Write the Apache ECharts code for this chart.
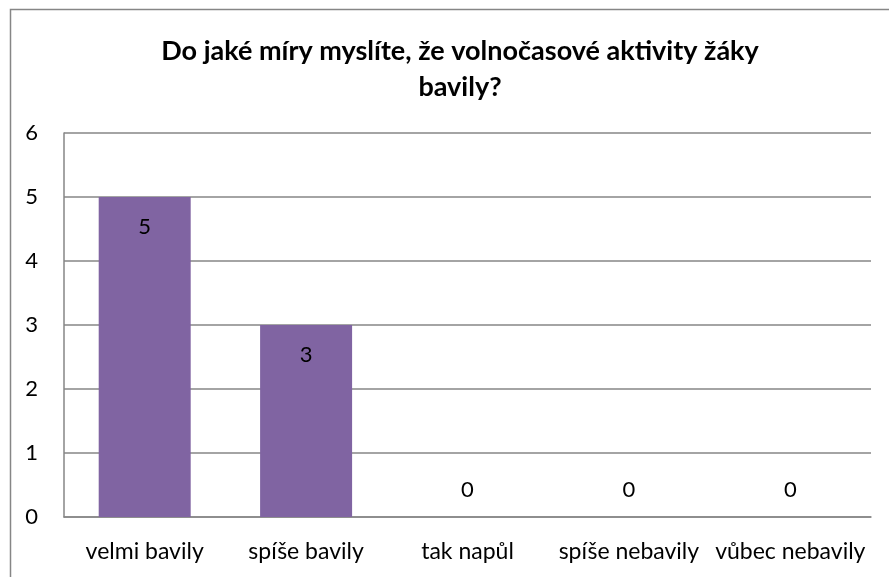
<!DOCTYPE html>
<html><head><meta charset="utf-8">
<script src="https://cdn.jsdelivr.net/npm/echarts@6/dist/echarts.min.js"></script>
<style>html,body{margin:0;padding:0;background:#fff}#c{width:889px;height:577px}</style>
</head><body><div id="c"></div>
<script>
const categories = ['velmi bavily', 'spíše bavily', 'tak napůl', 'spíše nebavily', 'vůbec nebavily'];
const values = [5, 3, 0, 0, 0];
const yTicks = [0, 1, 2, 3, 4, 5, 6];
const titleText = 'Do jaké míry myslíte, že volnočasové aktivity žáky\nbavily?';

const font = 'Lato';
const chart = echarts.init(document.getElementById('c'), null, {renderer: 'canvas'});
chart.setOption({
  animation: false,
  backgroundColor: '#fff',
  graphic: [{
    type: 'rect', left: 8, top: 7, silent: true,
    shape: {width: 1000, height: 1000},
    style: {fill: 'none', stroke: '#868686', lineWidth: 1.5}
  }],
  title: {
    text: titleText, left: 455, textAlign: 'center', top: 28,
    textStyle: {fontFamily: font, fontWeight: 'bold', fontSize: 27, color: '#000', lineHeight: 36}
  },
  grid: {left: 64, right: 18, top: 133, bottom: 60, containLabel: false},
  xAxis: {
    type: 'category', data: categories,
    axisLine: {lineStyle: {color: '#868686', width: 1.5}},
    axisTick: {show: false},
    axisLabel: {fontFamily: font, fontSize: 23, color: '#000', margin: 23, interval: 0}
  },
  yAxis: {
    type: 'value', min: yTicks[0], max: yTicks[yTicks.length - 1], interval: 1,
    axisLine: {show: true, lineStyle: {color: '#868686', width: 1.5}},
    axisTick: {show: false},
    splitLine: {lineStyle: {color: '#868686', width: 1.5}},
    axisLabel: {fontFamily: font, fontSize: 22, color: '#000', margin: 26, padding: [4, 0, 0, 0]}
  },
  series: [{
    type: 'bar', barWidth: '57%',
    itemStyle: {color: '#8064A2'},
    data: values.map(v => ({
      value: v,
      label: v > 0
        ? {show: true, position: 'insideTop', distance: 19, fontFamily: font, fontSize: 22, color: '#000'}
        : {show: true, position: 'top', distance: 16, fontFamily: font, fontSize: 22, color: '#000'}
    }))
  }]
});
</script></body></html>
